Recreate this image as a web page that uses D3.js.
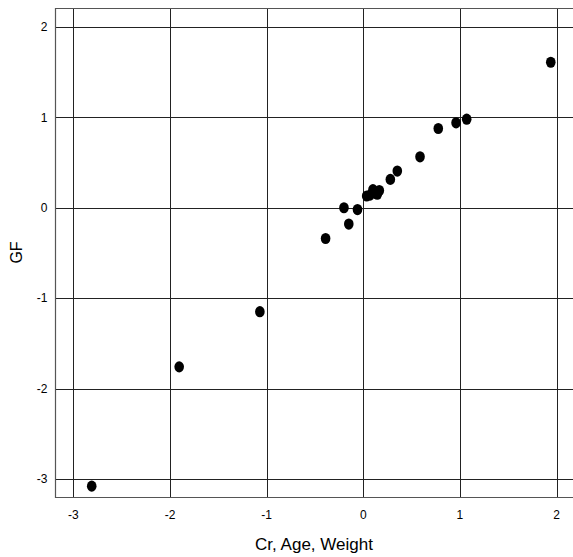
<!DOCTYPE html>
<html>
<head>
<meta charset="utf-8">
<script src="https://cdn.jsdelivr.net/npm/d3@7"></script>
<style>
  html, body { margin: 0; padding: 0; background: #fff; }
  svg { display: block; font-family: Arial, "Liberation Sans", sans-serif; }
</style>
</head>
<body>
<div id="chart"></div>
<script>
// values
const xValues = [-2.81, -1.905, -1.07, -0.39, -0.2, -0.15, -0.06, 0.035, 0.07, 0.10, 0.145, 0.166, 0.28, 0.352, 0.587, 0.776, 0.96, 1.07, 1.94]
const yValues = [-3.08, -1.76, -1.15, -0.34, 0.0, -0.18, -0.02, 0.13, 0.14, 0.20, 0.15, 0.19, 0.314, 0.406, 0.564, 0.877, 0.94, 0.98, 1.61]
const xTicks = [-3, -2, -1, 0, 1, 2]
const yTicks = [-3, -2, -1, 0, 1, 2]
const xTitle = 'Cr, Age, Weight'
const yTitle = 'GF'

const width = 573
const height = 557
const margin = { top: 8, right: 0, bottom: 60, left: 55 }

const points = xValues.map((x, i) => ({ x, y: yValues[i] }))

const svg = d3.select('#chart').append('svg')
  .attr('width', width)
  .attr('height', height)

const x = d3.scaleLinear()
  .domain([-3.19, 2.17])
  .range([margin.left, width - margin.right])

const y = d3.scaleLinear()
  .domain([-3.2, 2.21])
  .range([height - margin.bottom, margin.top])

// grid lines
svg.append('g')
  .attr('stroke', '#222')
  .attr('stroke-width', 1)
  .selectAll('line')
  .data(xTicks)
  .join('line')
  .attr('x1', d => Math.round(x(d)) + 0.5)
  .attr('x2', d => Math.round(x(d)) + 0.5)
  .attr('y1', y.range()[1])
  .attr('y2', y.range()[0])

svg.append('g')
  .attr('stroke', '#222')
  .attr('stroke-width', 1)
  .selectAll('line')
  .data(yTicks)
  .join('line')
  .attr('x1', x.range()[0])
  .attr('x2', x.range()[1])
  .attr('y1', d => Math.round(y(d)) + 0.5)
  .attr('y2', d => Math.round(y(d)) + 0.5)

// frame: left, top, bottom (right side runs off the page)
const x0 = x.range()[0] + 0.5
const yTop = y.range()[1] + 0.5
const yBot = y.range()[0] + 0.5
svg.append('path')
  .attr('d', `M${width},${yTop}H${x0}V${yBot}H${width}`)
  .attr('fill', 'none')
  .attr('stroke', '#555')
  .attr('stroke-width', 1.2)

// tick labels
svg.append('g')
  .attr('font-size', 12)
  .attr('fill', '#000')
  .attr('text-anchor', 'middle')
  .selectAll('text')
  .data(xTicks)
  .join('text')
  .attr('x', d => x(d))
  .attr('y', yBot + 21)
  .text(d => d)

svg.append('g')
  .attr('font-size', 12)
  .attr('fill', '#000')
  .attr('text-anchor', 'end')
  .selectAll('text')
  .data(yTicks)
  .join('text')
  .attr('x', x0 - 8)
  .attr('y', d => y(d))
  .attr('dy', '0.35em')
  .text(d => d)

// axis titles
svg.append('text')
  .attr('x', (x.range()[0] + x.range()[1]) / 2)
  .attr('y', yBot + 52)
  .attr('text-anchor', 'middle')
  .attr('font-size', 17)
  .text(xTitle)

svg.append('text')
  .attr('transform', `translate(22,${(y.range()[0] + y.range()[1]) / 2}) rotate(-90)`)
  .attr('text-anchor', 'middle')
  .attr('font-size', 16)
  .text(yTitle)

// points
svg.append('g')
  .attr('fill', '#000')
  .selectAll('ellipse')
  .data(points)
  .join('ellipse')
  .attr('cx', d => x(d.x))
  .attr('cy', d => y(d.y))
  .attr('rx', 4.8)
  .attr('ry', 5.6)
</script>
</body>
</html>
